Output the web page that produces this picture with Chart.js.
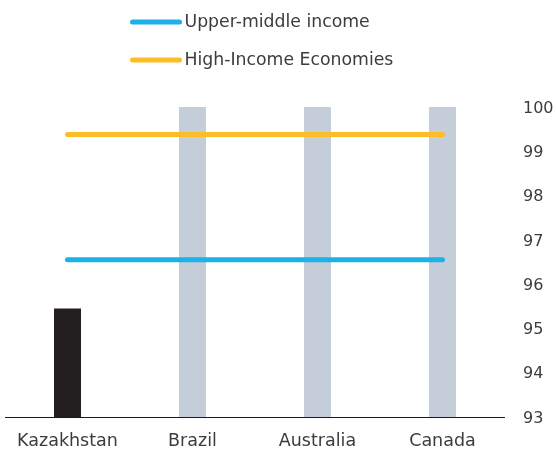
<!DOCTYPE html>
<html>
<head>
<meta charset="utf-8">
<script src="https://cdn.jsdelivr.net/npm/chart.js@4"></script>
<style>
  html, body { margin: 0; padding: 0; background: #fff; }
</style>
</head>
<body>
<canvas id="c" width="556" height="449"></canvas>
<script>
const categories = ['Kazakhstan', 'Brazil', 'Australia', 'Canada'];
const coverage = [95.45, 100, 100, 100];
const upperMiddleIncome = [96.55, 96.55, 96.55, 96.55];
const highIncomeEconomies = [99.38, 99.38, 99.38, 99.38];
const yTicks = [93, 94, 95, 96, 97, 98, 99, 100];

const FONT = 'DejaVu Sans';
const TEXT = '#3c3c3c';

// Stacked legend: one row per line series, line sample + label
const lineLegend = {
  id: 'lineLegend',
  afterDraw(chart, args, opts) {
    const ctx = chart.ctx;
    ctx.save();
    ctx.font = opts.size + 'px "' + FONT + '"';
    ctx.textBaseline = 'middle';
    ctx.textAlign = 'left';
    let y = opts.top;
    chart.data.datasets.filter(d => d.type === 'line').forEach(ds => {
      ctx.strokeStyle = ds.borderColor;
      ctx.lineWidth = opts.lineWidth;
      ctx.lineCap = 'round';
      ctx.beginPath();
      ctx.moveTo(opts.left, y);
      ctx.lineTo(opts.left + opts.sampleWidth, y);
      ctx.stroke();
      ctx.fillStyle = TEXT;
      ctx.fillText(ds.label, opts.left + opts.sampleWidth + opts.gap, y + 1);
      y += opts.rowHeight;
    });
    ctx.restore();
  }
};

new Chart(document.getElementById('c'), {
  data: {
    labels: categories,
    datasets: [
      {
        type: 'line',
        label: 'Upper-middle income',
        data: upperMiddleIncome,
        borderColor: '#1cb1e7',
        borderWidth: 5,
        borderCapStyle: 'round',
        pointRadius: 0,
        order: 0
      },
      {
        type: 'line',
        label: 'High-Income Economies',
        data: highIncomeEconomies,
        borderColor: '#fdbd26',
        borderWidth: 5,
        borderCapStyle: 'round',
        pointRadius: 0,
        order: 0
      },
      {
        type: 'bar',
        label: 'Coverage',
        data: coverage,
        backgroundColor: ['#231f20', '#c4cdd8', '#c4cdd8', '#c4cdd8'],
        barPercentage: 0.216,
        categoryPercentage: 1,
        order: 1
      }
    ]
  },
  options: {
    responsive: false,
    animation: false,
    layout: { padding: { top: 107, left: 5, right: 0, bottom: 0 } },
    plugins: {
      legend: { display: false },
      tooltip: { enabled: false },
      lineLegend: { left: 132.5, top: 22, sampleWidth: 47, gap: 5, rowHeight: 38, lineWidth: 5, size: 17.3 }
    },
    scales: {
      x: {
        grid: { display: false, tickLength: 17.5, tickColor: 'transparent' },
        border: { display: true, color: '#1a1a1a', width: 1 },
        ticks: { color: TEXT, font: { family: FONT, size: 17.5, lineHeight: 1 }, padding: -1.5 }
      },
      y: {
        position: 'right',
        min: 93,
        max: 100,
        afterBuildTicks: axis => { axis.ticks = yTicks.map(v => ({ value: v })); },
        grid: { display: false, tickLength: 15.5, tickColor: 'transparent' },
        border: { display: false },
        ticks: { color: TEXT, font: { family: FONT, size: 16 }, padding: 2.5, crossAlign: 'near', labelOffset: 1.5 }
      }
    }
  },
  plugins: [lineLegend]
});
</script>
</body>
</html>
